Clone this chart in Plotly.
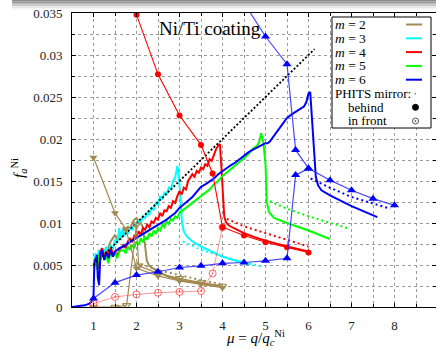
import plotly.graph_objects as go

# ---------------- data ----------------
# theory line (black dotted)
theory_x = [1.0, 6.14]
theory_y = [0.0050, 0.0307]

# m = 2 (olive) simulation
m2_x = [1.02, 1.05, 1.1, 1.15, 1.2, 1.25, 1.3, 1.35, 1.4, 1.45, 1.5, 1.55, 1.6, 1.65, 1.7, 1.75, 1.8, 1.85,
        1.9, 1.95, 2.0, 2.05, 2.1, 2.15, 2.2, 2.24, 2.3, 2.5, 2.75, 3.0, 3.25, 3.5, 3.75, 3.95]
m2_y = [0.0050, 0.0058, 0.0052, 0.0064, 0.0060, 0.0068, 0.0064, 0.0072, 0.0078, 0.0082, 0.0086, 0.0080,
        0.0088, 0.0084, 0.0094, 0.0090, 0.0096, 0.0092, 0.0100, 0.0104, 0.0106, 0.0101, 0.0100, 0.0095,
        0.0075, 0.0055, 0.0049, 0.0042, 0.0036, 0.0032, 0.0030, 0.0028, 0.0026, 0.0025]
m2_phits_x = [2.0, 2.5, 3.0, 3.5, 4.0]
m2_phits_y = [0.0053, 0.0044, 0.0038, 0.0032, 0.0027]
m2_behind_x = [1.0, 1.5, 1.75, 2.0, 2.5, 3.0, 3.5, 4.0]
m2_behind_y = [0.0178, 0.0112, 0.0093, 0.0046, 0.0037, 0.0031, 0.0027, 0.0023]
m2_front_x = [1.0, 1.5, 1.77, 2.0, 2.05, 2.5, 3.0, 3.5, 4.0]
m2_front_y = [0.0, 0.0, 0.0002, 0.0098, 0.0049, 0.0040, 0.0034, 0.0029, 0.0025]

# m = 3 (cyan)
m3_x = [1.02, 1.05, 1.08, 1.12, 1.16, 1.2, 1.25, 1.3, 1.35, 1.4, 1.45, 1.5, 1.55, 1.6, 1.63, 1.67, 1.7, 1.75,
        1.8, 1.85, 1.9, 1.95, 2.0, 2.05, 2.1, 2.15, 2.2, 2.25, 2.3, 2.35, 2.4, 2.45, 2.5, 2.55, 2.6, 2.65,
        2.7, 2.75, 2.8, 2.85, 2.9, 2.95, 2.98, 3.02, 3.06, 3.1, 3.17, 3.3, 3.5, 3.75, 4.0, 4.25, 4.5, 4.62]
m3_y = [0.0055, 0.0064, 0.0052, 0.0068, 0.0058, 0.0070, 0.0066, 0.0072, 0.0064, 0.0074, 0.0068, 0.0080,
        0.0076, 0.0094, 0.0080, 0.0092, 0.0084, 0.0090, 0.0088, 0.0094, 0.0092, 0.0098, 0.0097, 0.0103,
        0.0100, 0.0108, 0.0106, 0.0112, 0.0110, 0.0118, 0.0116, 0.0124, 0.0122, 0.0132, 0.0128, 0.0136,
        0.0134, 0.0142, 0.0140, 0.0150, 0.0154, 0.0168, 0.0160, 0.0130, 0.0100, 0.0090, 0.0084, 0.0078,
        0.0072, 0.0066, 0.0060, 0.0056, 0.0052, 0.0051]
m3_phits_x = [3.08, 3.5, 4.0, 4.5, 4.9]
m3_phits_y = [0.0078, 0.0068, 0.0060, 0.0053, 0.0048]

# m = 4 (red)
m4_x = [1.02, 1.05, 1.1, 1.15, 1.2, 1.25, 1.3, 1.35, 1.4, 1.45, 1.5, 1.55, 1.6, 1.7, 1.75, 1.8, 1.85, 1.9,
        1.95, 2.0, 2.05, 2.1, 2.15, 2.2, 2.25, 2.3, 2.35, 2.4, 2.45, 2.5, 2.55, 2.6, 2.65, 2.7, 2.75, 2.8,
        2.85, 2.9, 2.95, 3.0, 3.05, 3.1, 3.15, 3.2, 3.25, 3.3, 3.35, 3.4, 3.45, 3.5, 3.55, 3.6, 3.65, 3.7,
        3.75, 3.8, 3.85, 3.9, 3.94, 3.97, 4.0, 4.04, 4.08, 4.15, 4.3, 4.5, 4.75, 5.0, 5.5, 6.0]
m4_y = [0.0050, 0.0058, 0.0045, 0.0065, 0.0070, 0.0058, 0.0066, 0.0062, 0.0070, 0.0064, 0.0066, 0.0060,
        0.0068, 0.0074, 0.0070, 0.0078, 0.0082, 0.0077, 0.0085, 0.0084, 0.0090, 0.0086, 0.0094, 0.0092,
        0.0098, 0.0095, 0.0102, 0.0100, 0.0106, 0.0104, 0.0112, 0.0108, 0.0115, 0.0114, 0.0120, 0.0118,
        0.0126, 0.0124, 0.0132, 0.0138, 0.0134, 0.0142, 0.0140, 0.0150, 0.0154, 0.0158, 0.0155, 0.0162,
        0.0160, 0.0166, 0.0164, 0.0170, 0.0168, 0.0176, 0.0174, 0.0182, 0.0188, 0.0192, 0.0194, 0.0170,
        0.0135, 0.0108, 0.0101, 0.0097, 0.0093, 0.0088, 0.0083, 0.0079, 0.0072, 0.0066]
m4_phits_x = [4.1, 4.5, 5.0, 5.5, 6.0]
m4_phits_y = [0.0105, 0.0096, 0.0088, 0.0080, 0.0072]
m4_behind_x = [2.0, 2.5, 3.0, 3.5, 3.77, 4.0, 4.5, 5.0, 5.5, 6.0]
m4_behind_y = [0.0348, 0.0277, 0.0228, 0.0193, 0.0159, 0.0095, 0.0085, 0.0077, 0.0071, 0.0065]
m4_front_x = [1.0, 1.5, 2.0, 2.5, 3.0, 3.5, 3.77, 4.0]
m4_front_y = [0.0004, 0.0012, 0.0015, 0.0017, 0.0018, 0.0019, 0.0040, 0.0095]

# m = 5 (green)
m5_x = [1.02, 1.05, 1.08, 1.12, 1.16, 1.2, 1.25, 1.3, 1.35, 1.4, 1.45, 1.5, 1.55, 1.6, 1.7, 1.75, 1.8, 1.85,
        1.9, 1.95, 2.0, 2.05, 2.1, 2.15, 2.2, 2.25, 2.3, 2.35, 2.4, 2.45, 2.5, 2.55, 2.6, 2.65, 2.7, 2.75,
        2.8, 2.85, 2.9, 2.95, 3.0, 3.1, 3.2, 3.3, 3.4, 3.5, 3.6, 3.7, 3.8, 3.9, 4.0, 4.1, 4.2, 4.3, 4.4,
        4.5, 4.6, 4.7, 4.8, 4.85, 4.9, 4.95, 5.0, 5.03, 5.08, 5.2, 5.5, 6.0, 6.5]
m5_y = [0.0048, 0.0058, 0.0045, 0.0062, 0.0055, 0.0065, 0.0056, 0.0060, 0.0052, 0.0066, 0.0060, 0.0064,
        0.0058, 0.0066, 0.0068, 0.0064, 0.0072, 0.0068, 0.0074, 0.0070, 0.0078, 0.0074, 0.0082, 0.0077,
        0.0084, 0.0080, 0.0088, 0.0084, 0.0091, 0.0087, 0.0094, 0.0091, 0.0098, 0.0095, 0.0102, 0.0099,
        0.0105, 0.0103, 0.0108, 0.0106, 0.0112, 0.0116, 0.0120, 0.0124, 0.0127, 0.0131, 0.0135, 0.0140,
        0.0146, 0.0150, 0.0156, 0.0160, 0.0165, 0.0168, 0.0173, 0.0177, 0.0182, 0.0188, 0.0192, 0.0196,
        0.0207, 0.0196, 0.0170, 0.0125, 0.0113, 0.0106, 0.0100, 0.0091, 0.0081]
m5_phits_x = [5.1, 5.5, 6.0, 6.5, 6.9]
m5_phits_y = [0.0126, 0.0117, 0.0108, 0.0100, 0.0094]

# m = 6 (blue)
m6_x = [0.5, 0.6, 0.7, 0.8, 0.9, 0.95, 1.0, 1.02, 1.05, 1.08, 1.1, 1.13, 1.16, 1.2, 1.25, 1.3, 1.35, 1.4,
        1.45, 1.5, 1.6, 1.7, 1.8, 1.9, 2.0, 2.1, 2.2, 2.3, 2.4, 2.5, 2.6, 2.7, 2.8, 2.9, 3.0, 3.1, 3.2,
        3.3, 3.4, 3.5, 3.6, 3.7, 3.8, 3.9, 4.0, 4.1, 4.2, 4.3, 4.4, 4.5, 4.6, 4.7, 4.8, 4.9, 5.0, 5.05,
        5.1, 5.2, 5.3, 5.4, 5.5, 5.6, 5.7, 5.8, 5.9, 5.95, 6.0, 6.04, 6.1, 6.17, 6.22, 6.3, 6.5, 7.0, 7.6]
m6_y = [0.0, 0.0001, 0.00015, 0.0002, 0.0004, 0.0006, 0.0012, 0.0052, 0.0056, 0.0062, 0.0035, 0.0026,
        0.0062, 0.0068, 0.0056, 0.0065, 0.0058, 0.0068, 0.0060, 0.0066, 0.0070, 0.0072, 0.0076, 0.0079,
        0.0082, 0.0086, 0.0088, 0.0092, 0.0094, 0.0098, 0.0101, 0.0104, 0.0108, 0.0112, 0.0118, 0.0122,
        0.0126, 0.0131, 0.0137, 0.0143, 0.0146, 0.0149, 0.0153, 0.0158, 0.0162, 0.0165, 0.0169, 0.0172,
        0.0176, 0.0181, 0.0184, 0.0187, 0.0190, 0.0193, 0.0195, 0.0195, 0.0197, 0.0204, 0.0211, 0.0219,
        0.0225, 0.0229, 0.0232, 0.0236, 0.0239, 0.0244, 0.0254, 0.0256, 0.0210, 0.0155, 0.0145, 0.0139,
        0.0133, 0.0120, 0.0107]
m6_phits_x = [6.05, 6.5, 7.0, 7.5, 7.9]
m6_phits_y = [0.0153, 0.0142, 0.0131, 0.0123, 0.0117]
m6_behind_x = [4.5, 5.0, 5.5, 5.7, 6.0, 6.5, 7.0, 7.5, 8.0]
m6_behind_y = [0.0362, 0.0322, 0.0289, 0.0187, 0.0165, 0.0151, 0.0139, 0.0129, 0.0121]
m6_front_x = [1.0, 1.5, 2.0, 2.5, 3.0, 3.5, 4.0, 4.5, 5.0, 5.5, 5.7, 6.0]
m6_front_y = [0.0010, 0.0029, 0.0038, 0.0042, 0.0047, 0.0049, 0.0052, 0.0053, 0.0055, 0.0058, 0.0157, 0.0165]

legend_labels = ["2", "3", "4", "5", "6"]
x_ticks = [1, 2, 3, 4, 5, 6, 7, 8]

# ---------------- styling ----------------
OLIVE = "#a08a50"
CYAN = "#00ffff"
RED = "#ff0000"
GREEN = "#00ff00"
BLUE = "#0000ff"
colors = [OLIVE, CYAN, RED, GREEN, BLUE]
FONT = "Liberation Serif"

fig = go.Figure()

sims = [(m2_x, m2_y, OLIVE), (m3_x, m3_y, CYAN), (m4_x, m4_y, RED), (m5_x, m5_y, GREEN), (m6_x, m6_y, BLUE)]
for xs, ys, c in sims:
    fig.add_trace(go.Scatter(x=xs, y=ys, mode="lines", line=dict(color=c, width=2), showlegend=False))

phits = [(m2_phits_x, m2_phits_y, OLIVE), (m3_phits_x, m3_phits_y, CYAN), (m4_phits_x, m4_phits_y, RED),
         (m5_phits_x, m5_phits_y, GREEN), (m6_phits_x, m6_phits_y, BLUE)]
for xs, ys, c in phits:
    fig.add_trace(go.Scatter(x=xs, y=ys, mode="lines", line=dict(color=c, width=2, dash="2px,3px"),
                             showlegend=False))

fig.add_trace(go.Scatter(x=theory_x, y=theory_y, mode="lines",
                         line=dict(color="black", width=1.8, dash="2px,2px"), showlegend=False))

# marker curves
fig.add_trace(go.Scatter(x=m2_front_x, y=m2_front_y, mode="lines+markers",
                         line=dict(color=OLIVE, width=1.2),
                         marker=dict(symbol="triangle-down-open", size=7, color=OLIVE, line=dict(width=1.2)),
                         showlegend=False))
fig.add_trace(go.Scatter(x=m2_behind_x, y=m2_behind_y, mode="lines+markers",
                         line=dict(color=OLIVE, width=1.2),
                         marker=dict(symbol="triangle-down", size=7, color=OLIVE), showlegend=False))
fig.add_trace(go.Scatter(x=m4_front_x, y=m4_front_y, mode="lines+markers",
                         line=dict(color="rgba(255,80,80,0.6)", width=1),
                         marker=dict(symbol="circle-open-dot", size=7, color="rgba(255,60,60,0.8)",
                                     line=dict(width=1)), showlegend=False))
fig.add_trace(go.Scatter(x=m4_behind_x, y=m4_behind_y, mode="lines+markers",
                         line=dict(color=RED, width=1.1),
                         marker=dict(symbol="circle", size=6, color=RED), showlegend=False))
fig.add_trace(go.Scatter(x=m6_front_x, y=m6_front_y, mode="lines+markers",
                         line=dict(color="rgba(40,40,255,0.85)", width=1.2),
                         marker=dict(symbol="triangle-up", size=8, color=BLUE), showlegend=False))
fig.add_trace(go.Scatter(x=m6_behind_x, y=m6_behind_y, mode="lines+markers",
                         line=dict(color="rgba(40,40,255,0.85)", width=1.2),
                         marker=dict(symbol="triangle-up", size=8, color=BLUE), showlegend=False))

# ---------------- layout ----------------
L, T, B = 72, 13, 43
W, H = 436, 350
PW, PH = W - L, H - T - B


def px(xp):
    return (xp - L) / PW


def py(yp):
    return (H - B - yp) / PH


shapes = []
annotations = []

# top gray shadow band
band = ["#8a8a8a", "#9a9a9a", "#b0b0b0", "#cdcdcd", "#e6e6e6", "#f5f5f5"]
for i, c in enumerate(band):
    shapes.append(dict(type="rect", xref="paper", yref="paper", x0=px(12), x1=px(436),
                       y0=py(i * 1.6 + 1.6), y1=py(i * 1.6), fillcolor=c, line=dict(width=0),
                       layer="above"))

# legend box
bx0, bx1, by0, by1 = 332, 431, 17, 128
shapes.append(dict(type="rect", xref="paper", yref="paper", x0=px(bx0), x1=px(bx1), y0=py(by1), y1=py(by0),
                   fillcolor="white", line=dict(color="black", width=1), layer="above"))
row_y = [24.5, 38.3, 52.1, 65.9, 79.7]
for lab, c, ry in zip(legend_labels, colors, row_y):
    shapes.append(dict(type="line", xref="paper", yref="paper", x0=px(406), x1=px(422), y0=py(ry), y1=py(ry),
                       line=dict(color=c, width=2), layer="above"))
    annotations.append(dict(xref="paper", yref="paper", x=px(333), y=py(ry), xanchor="left", yanchor="middle",
                            text="<i>m</i> = " + lab, showarrow=False,
                            font=dict(family=FONT, size=13.5, color="black")))
annotations.append(dict(xref="paper", yref="paper", x=px(333), y=py(93.5), xanchor="left", yanchor="middle",
                        text="PHITS mirror:", showarrow=False, font=dict(family=FONT, size=13, color="black")))
annotations.append(dict(xref="paper", yref="paper", x=px(346), y=py(107.3), xanchor="left", yanchor="middle",
                        text="behind", showarrow=False, font=dict(family=FONT, size=13, color="black")))
annotations.append(dict(xref="paper", yref="paper", x=px(346), y=py(121), xanchor="left", yanchor="middle",
                        text="in front", showarrow=False, font=dict(family=FONT, size=13, color="black")))
# legend symbols
shapes.append(dict(type="circle", xref="paper", yref="paper", x0=px(414.8), x1=px(415.8), y0=py(94.2), y1=py(93.2),
                   fillcolor="#555", line=dict(color="#555", width=0.5), layer="above"))
shapes.append(dict(type="circle", xref="paper", yref="paper", x0=px(412.5), x1=px(418.5), y0=py(110.3), y1=py(104.3),
                   fillcolor="black", line=dict(color="black", width=1), layer="above"))
shapes.append(dict(type="circle", xref="paper", yref="paper", x0=px(412.5), x1=px(418.5), y0=py(124), y1=py(118),
                   fillcolor="white", line=dict(color="#555", width=1), layer="above"))
shapes.append(dict(type="circle", xref="paper", yref="paper", x0=px(414.8), x1=px(416.2), y0=py(121.7), y1=py(120.3),
                   fillcolor="#555", line=dict(color="#555", width=0.5), layer="above"))

# title inside plot
annotations.append(dict(xref="paper", yref="paper", x=px(157), y=py(29), xanchor="left", yanchor="middle",
                        text="Ni/Ti coating", showarrow=False, font=dict(family=FONT, size=19, color="black")))
# axis titles
annotations.append(dict(xref="paper", yref="paper", x=px(255), y=py(338), xanchor="center", yanchor="middle",
                        text="<i>μ</i> = <i>q</i>/<i>q</i><sub><i>c</i></sub><sup>Ni</sup>", showarrow=False,
                        font=dict(family=FONT, size=15, color="black")))
annotations.append(dict(xref="paper", yref="paper", x=px(19), y=py(168), xanchor="center", yanchor="middle",
                        text="<i>f</i><sub><i>a</i></sub><sup>Ni</sup>", showarrow=False, textangle=-90,
                        font=dict(family=FONT, size=15, color="black")))

grid = dict(showgrid=True, gridcolor="#9a9a9a", gridwidth=1, griddash="dot")
fig.update_layout(
    width=W, height=H,
    margin=dict(l=L, r=0, t=T, b=B),
    paper_bgcolor="white", plot_bgcolor="white",
    showlegend=False,
    shapes=shapes, annotations=annotations,
    font=dict(family=FONT, size=12, color="black"),
    xaxis=dict(range=[0.5, 0.5 + PW / 43.0], tickvals=x_ticks, ticks="inside", ticklen=4,
               tickcolor="black", showline=True, linecolor="black", linewidth=1, mirror="allticks",
               zeroline=False, ticklabelstandoff=6, tickfont=dict(family=FONT, size=13, color="#222"),
               minor=dict(dtick=0.5, tick0=0.5, ticks="inside", ticklen=3, tickcolor="black",
                          showgrid=True, gridcolor="#9a9a9a", griddash="dot"),
               **grid),
    yaxis=dict(range=[0, 0.035], dtick=0.005, ticks="inside", ticklen=4, tickcolor="black",
               showline=True, linecolor="black", linewidth=1, mirror="allticks", zeroline=False,
               ticklabelstandoff=6, tickfont=dict(family=FONT, size=13, color="#222"),
               minor=dict(dtick=0.0025, ticks="inside", ticklen=3, tickcolor="black",
                          showgrid=True, gridcolor="#9a9a9a", griddash="dot"),
               **grid),
)

fig.write_html("out.html")
